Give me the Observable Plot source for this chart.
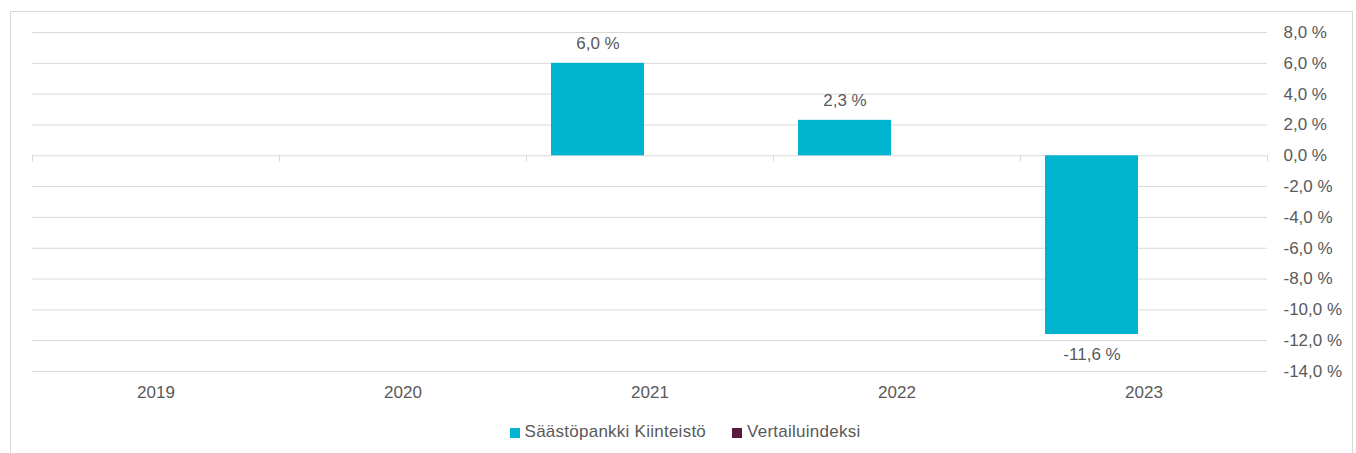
<!DOCTYPE html>
<html>
<head>
<meta charset="utf-8">
<script src="https://cdn.jsdelivr.net/npm/d3@7"></script>
<script src="https://cdn.jsdelivr.net/npm/@observablehq/plot@0.6"></script>
<style>
  html, body { margin: 0; padding: 0; background: #fff; }
  #wrap { position: relative; width: 1356px; height: 453px; overflow: hidden; font-family: "Liberation Sans", Arial, sans-serif; }
  #border { position: absolute; left: 10px; top: 11px; width: 1343px; height: 470px; border: 1px solid #d9d9d9; pointer-events: none; box-sizing: border-box; }
  #chart { position: absolute; left: 0; top: 0; }
  #legend { position: absolute; left: 10px; top: 422px; width: 1350px; display: flex; justify-content: center; align-items: center; font-size: 17px; line-height: 20px; color: #595959; letter-spacing: 0.25px; }
  .item { display: flex; align-items: center; margin: 0 13px; }
  .sw { width: 10px; height: 10px; margin-right: 5px; margin-top: 1px; }
</style>
</head>
<body>
<div id="wrap">
  <div id="chart"></div>
  <div id="border"></div>
  <div id="legend"></div>
</div>
<script>
const years = ["2019", "2020", "2021", "2022", "2023"];
const seriesNames = ["Säästöpankki Kiinteistö", "Vertailuindeksi"];
const fundValues = [null, null, 6.0, 2.3, -11.6];
const benchmarkValues = [null, null, null, null, null];
const yTicks = [-14, -12, -10, -8, -6, -4, -2, 0, 2, 4, 6, 8];
const colors = ["#00b4cf", "#5b1a40"];

const seriesValues = [fundValues, benchmarkValues];
const data = [];
years.forEach((year, i) => {
  seriesNames.forEach((s, j) => {
    data.push({year, series: s, value: seriesValues[j][i]});
  });
});
const labelled = data.filter(d => d.value != null);

const locale = d3.formatLocale({decimal: ",", thousands: "\u00a0", grouping: [3], currency: ["", "\u00a0€"], minus: "-"});
const f1 = locale.format(".1f");
const pct = v => f1(v) + " %";

const textColor = "#595959";
const gridColor = "#d9d9d9";

const plot = Plot.plot({
  width: 1356,
  height: 411,
  marginLeft: 31,
  marginRight: 89,
  marginTop: 32,
  marginBottom: 40,
  style: {fontFamily: '"Liberation Sans", Arial, sans-serif', fontSize: "17px", color: textColor, background: "transparent"},
  fx: {domain: years, padding: 0, label: null},
  x: {domain: seriesNames, paddingInner: 0, paddingOuter: 0.315, align: 0.405, axis: null},
  y: {domain: [-14, 8], axis: null},
  color: {domain: seriesNames, range: colors},
  marks: [
    Plot.gridY(yTicks, {stroke: gridColor, strokeOpacity: 1, strokeWidth: 1}),
    Plot.axisY(yTicks, {anchor: "right", tickSize: 0, tickPadding: 16, tickFormat: pct, fontSize: 17, label: null, textAnchor: "start"}),
    Plot.axisFx({anchor: "bottom", tickSize: 0, tickPadding: 14, fontSize: 17, label: null}),
    Plot.barY(data, {fx: "year", x: "series", y: "value", fill: "series"}),
    Plot.text(labelled.filter(d => d.value >= 0), {fx: "year", x: "series", y: "value", text: d => pct(d.value), dy: -20, fill: textColor, fontSize: 17}),
    Plot.text(labelled.filter(d => d.value < 0), {fx: "year", x: "series", y: "value", text: d => pct(d.value), dy: 20, fill: textColor, fontSize: 17})
  ]
});

// category boundary tick marks on the zero line, positioned via Plot's own scales
const fx = plot.scale("fx");
const ys = plot.scale("y");
const y0 = ys.apply(0);
const bounds = years.map(y => fx.apply(y)).concat([fx.apply(years[years.length - 1]) + fx.bandwidth]);
d3.select(plot).append("g")
  .attr("stroke", gridColor)
  .selectAll("line")
  .data(bounds)
  .join("line")
  .attr("x1", d => Math.round(d) + 0.5)
  .attr("x2", d => Math.round(d) + 0.5)
  .attr("y1", y0)
  .attr("y2", y0 + 6);

document.getElementById("chart").appendChild(plot);

const legend = d3.select("#legend");
seriesNames.forEach((s, i) => {
  const it = legend.append("div").attr("class", "item");
  it.append("div").attr("class", "sw").style("background", colors[i]);
  it.append("span").text(s);
});
</script>
</body>
</html>
